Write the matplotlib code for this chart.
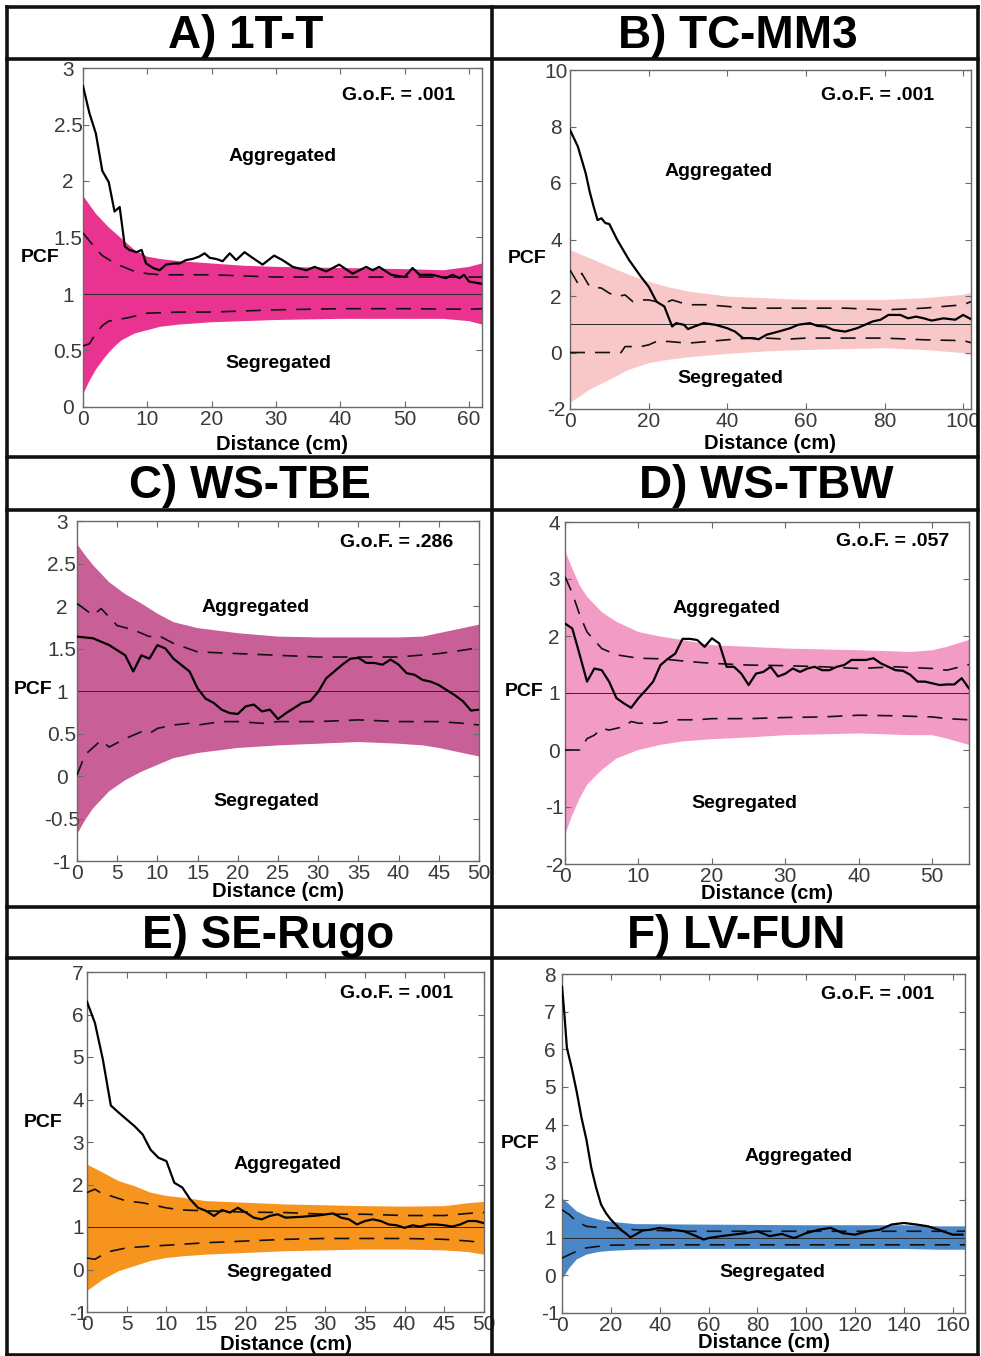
import matplotlib
matplotlib.use('Agg')
import matplotlib.pyplot as plt
from matplotlib.lines import Line2D
from matplotlib.ticker import FormatStrFormatter, MultipleLocator
import numpy as np

plt.rcParams['font.family'] = ['Liberation Sans', 'DejaVu Sans']
plt.rcParams['axes.unicode_minus'] = False

# ---------------- DATA ----------------
titles = ["A) 1T-T", "B) TC-MM3", "C) WS-TBE", "D) WS-TBW", "E) SE-Rugo", "F) LV-FUN"]
gof_labels = ["G.o.F. = .001", "G.o.F. = .001", "G.o.F. = .286", "G.o.F. = .057", "G.o.F. = .001", "G.o.F. = .001"]

# Panel A
A_obs_x = [0, 1, 2, 3, 4, 4.9, 5.7, 6.5, 7.2, 8.3, 9.1, 9.8, 10.9, 11.9, 12.9, 14, 15, 16, 17, 18, 18.9, 19.7,
           20.7, 21.7, 22.8, 23.8, 25.1, 26.1, 27.9, 29.7, 31, 32.6, 34.7, 36, 37.8, 39.8, 41.9, 44, 45, 46,
           47.9, 50, 51.2, 52.3, 54.3, 56.4, 57.4, 58.5, 59.2, 60, 62]
A_obs_y = [2.84, 2.6, 2.42, 2.09, 1.99, 1.73, 1.77, 1.42, 1.39, 1.37, 1.39, 1.27, 1.23, 1.21, 1.26, 1.27, 1.27,
           1.3, 1.31, 1.33, 1.36, 1.32, 1.31, 1.29, 1.36, 1.3, 1.37, 1.33, 1.26, 1.34, 1.3, 1.24, 1.21, 1.24,
           1.2, 1.26, 1.18, 1.24, 1.21, 1.24, 1.17, 1.15, 1.23, 1.17, 1.17, 1.14, 1.17, 1.14, 1.17, 1.11, 1.09]
A_env_x = [0, 1, 2, 3, 4, 5, 6, 8, 10, 12, 15, 20, 25, 30, 40, 50, 56, 60, 62]
A_env_hi = [1.87, 1.79, 1.71, 1.65, 1.59, 1.54, 1.49, 1.39, 1.33, 1.31, 1.29, 1.27, 1.25, 1.24, 1.23, 1.22, 1.21, 1.24, 1.27]
A_env_lo = [0.11, 0.23, 0.33, 0.41, 0.48, 0.54, 0.59, 0.65, 0.68, 0.71, 0.73, 0.75, 0.76, 0.77, 0.78, 0.78, 0.78, 0.76, 0.73]
A_dhi_x = [0, 1, 2, 3, 5, 8, 10, 12, 15, 20, 30, 40, 50, 60, 62]
A_dhi_y = [1.54, 1.47, 1.4, 1.34, 1.27, 1.2, 1.18, 1.17, 1.17, 1.17, 1.15, 1.15, 1.15, 1.15, 1.15]
A_dlo_x = [0, 1, 2, 3, 4, 7, 10, 15, 20, 30, 40, 50, 60, 62]
A_dlo_y = [0.54, 0.56, 0.65, 0.72, 0.76, 0.79, 0.83, 0.84, 0.84, 0.86, 0.87, 0.87, 0.865, 0.87]

# Panel B
B_obs_x = [0, 2, 4, 5, 6, 7, 8, 9, 10, 12, 15, 18, 20, 22, 24, 25, 26, 27, 29, 30, 32, 34, 37, 40, 42, 44, 46,
           48, 50, 53, 56, 58, 61, 63, 65, 67, 70, 73, 75, 77, 79, 81, 84, 86, 88, 90, 92, 95, 98, 100, 102]
B_obs_y = [7.88, 7.29, 6.34, 5.7, 5.17, 4.69, 4.75, 4.58, 4.55, 3.99, 3.28, 2.69, 2.33, 1.8, 1.63, 1.27, 0.92,
           1.04, 0.98, 0.83, 0.94, 1.04, 0.98, 0.86, 0.74, 0.51, 0.51, 0.47, 0.63, 0.74, 0.86, 0.98, 1.04, 0.94,
           0.92, 0.8, 0.74, 0.86, 0.98, 1.1, 1.16, 1.33, 1.33, 1.21, 1.27, 1.21, 1.13, 1.21, 1.16, 1.33, 1.18]
B_env_x = [0, 5, 10, 15, 20, 25, 30, 40, 50, 60, 70, 80, 90, 100, 102]
B_env_hi = [3.63, 3.34, 3.04, 2.75, 2.51, 2.31, 2.16, 1.98, 1.92, 1.86, 1.86, 1.86, 1.92, 2.04, 2.1]
B_env_lo = [-1.79, -1.32, -0.97, -0.61, -0.38, -0.26, -0.17, -0.05, 0.04, 0.09, 0.12, 0.15, 0.09, -0.02, -0.08]
B_dhi_x = [0, 2, 3, 5, 8, 10, 12, 14, 16, 18, 20, 22, 25, 26, 30, 35, 40, 45, 50, 60, 70, 80, 90, 100, 102]
B_dhi_y = [2.92, 2.45, 2.8, 2.33, 2.28, 2.1, 1.98, 2.04, 1.8, 1.86, 1.86, 1.8, 1.8, 1.86, 1.69, 1.69, 1.63,
           1.57, 1.57, 1.57, 1.57, 1.51, 1.57, 1.69, 1.8]
B_dlo_x = [0, 13, 14, 18, 20, 22, 25, 30, 35, 40, 45, 50, 55, 60, 70, 80, 90, 100, 102]
B_dlo_y = [0, 0, 0.21, 0.21, 0.27, 0.39, 0.39, 0.33, 0.39, 0.45, 0.51, 0.51, 0.47, 0.51, 0.51, 0.51, 0.45, 0.42, 0.35]

# Panel C
C_obs_x = [0, 2, 4, 6, 7, 8, 9, 10, 11, 12, 14, 15, 16, 17, 18, 19, 20, 21, 22, 23, 24, 25, 26, 27, 28, 29, 30,
           31, 32, 33, 34, 35, 36, 37, 38, 39, 40, 41, 42, 43, 44, 45, 46, 47, 48, 49, 50]
C_obs_y = [1.64, 1.62, 1.54, 1.42, 1.23, 1.42, 1.38, 1.54, 1.5, 1.38, 1.23, 1.03, 0.91, 0.86, 0.78, 0.74, 0.73,
           0.82, 0.84, 0.76, 0.78, 0.67, 0.74, 0.8, 0.86, 0.88, 0.99, 1.15, 1.23, 1.31, 1.38, 1.39, 1.33, 1.33,
           1.31, 1.37, 1.31, 1.21, 1.19, 1.13, 1.11, 1.07, 1.01, 0.95, 0.88, 0.77, 0.78]
C_env_x = [0, 1, 2, 4, 6, 8, 10, 12, 15, 20, 25, 30, 35, 40, 43, 45, 48, 50]
C_env_hi = [2.73, 2.6, 2.48, 2.28, 2.14, 2.03, 1.91, 1.81, 1.74, 1.68, 1.64, 1.63, 1.63, 1.63, 1.64, 1.68, 1.74, 1.78]
C_env_lo = [-0.69, -0.52, -0.38, -0.18, -0.05, 0.05, 0.13, 0.21, 0.27, 0.33, 0.36, 0.38, 0.40, 0.38, 0.36, 0.33, 0.27, 0.23]
C_dhi_x = [0, 2, 3, 5, 7, 9, 10, 12, 15, 20, 25, 30, 35, 40, 45, 48, 50]
C_dhi_y = [2.03, 1.89, 1.97, 1.77, 1.72, 1.64, 1.66, 1.56, 1.46, 1.44, 1.42, 1.4, 1.4, 1.4, 1.44, 1.48, 1.51]
C_dlo_x = [0, 1, 3, 4, 6, 8, 9, 10, 12, 14, 15, 18, 20, 23, 25, 30, 35, 40, 45, 48, 50]
C_dlo_y = [0.01, 0.25, 0.42, 0.34, 0.44, 0.52, 0.5, 0.56, 0.6, 0.62, 0.6, 0.64, 0.64, 0.62, 0.64, 0.64, 0.66,
           0.64, 0.64, 0.62, 0.6]

# Panel D
D_obs_x = [0, 1, 2, 3, 4, 5, 6, 7, 8, 9, 10, 11, 12, 13, 14, 15, 16, 17, 18, 19, 20, 21, 22, 23, 24, 25, 26, 27,
           28, 29, 30, 31, 32, 33, 34, 35, 36, 37, 38, 39, 40, 41, 42, 43, 44, 45, 46, 47, 48, 49, 50, 51, 52,
           53, 54, 55]
D_obs_y = [2.22, 2.13, 1.67, 1.2, 1.43, 1.4, 1.2, 0.91, 0.82, 0.74, 0.91, 1.05, 1.2, 1.49, 1.6, 1.69, 1.95, 1.95,
           1.93, 1.81, 1.96, 1.87, 1.46, 1.46, 1.34, 1.14, 1.34, 1.37, 1.46, 1.29, 1.34, 1.43, 1.37, 1.43, 1.46,
           1.4, 1.4, 1.46, 1.49, 1.58, 1.58, 1.58, 1.61, 1.52, 1.46, 1.4, 1.39, 1.32, 1.2, 1.2, 1.17, 1.14, 1.15,
           1.15, 1.26, 1.08]
D_env_x = [0, 1, 2, 3, 5, 7, 10, 13, 16, 20, 25, 30, 40, 47, 50, 52, 55]
D_env_hi = [3.5, 3.18, 2.89, 2.69, 2.42, 2.25, 2.07, 1.99, 1.93, 1.84, 1.81, 1.78, 1.75, 1.72, 1.75, 1.81, 1.93]
D_env_lo = [-1.49, -1.14, -0.85, -0.61, -0.35, -0.15, 0.0, 0.09, 0.15, 0.19, 0.22, 0.26, 0.29, 0.26, 0.26, 0.2, 0.09]
D_dhi_x = [0, 1, 2, 3, 5, 7, 10, 13, 17, 20, 25, 30, 35, 40, 45, 50, 52, 55]
D_dhi_y = [3.04, 2.75, 2.37, 2.07, 1.78, 1.67, 1.61, 1.6, 1.55, 1.52, 1.49, 1.48, 1.46, 1.43, 1.46, 1.43, 1.4, 1.5]
D_dlo_x = [0, 2, 3, 4, 5, 6, 8, 9, 10, 13, 15, 18, 20, 25, 30, 35, 40, 45, 50, 52, 55]
D_dlo_y = [0, 0, 0.2, 0.26, 0.38, 0.35, 0.41, 0.5, 0.47, 0.47, 0.53, 0.53, 0.55, 0.55, 0.57, 0.58, 0.61, 0.6,
           0.58, 0.55, 0.53]

# Panel E
E_obs_x = [0, 1, 2, 3, 4, 5, 6, 7, 8, 9, 10, 11, 12, 13, 14, 15, 16, 17, 18, 19, 20, 21, 22, 23, 24, 25, 27, 29,
           31, 32, 33, 34, 35, 36, 37, 38, 39, 40, 41, 42, 43, 44, 45, 46, 47, 48, 49, 50]
E_obs_y = [6.3, 5.8, 4.94, 3.86, 3.69, 3.53, 3.37, 3.18, 2.82, 2.63, 2.55, 2.04, 1.93, 1.65, 1.45, 1.38, 1.26,
           1.4, 1.34, 1.45, 1.34, 1.22, 1.18, 1.26, 1.3, 1.22, 1.24, 1.27, 1.32, 1.22, 1.18, 1.06, 1.14, 1.18,
           1.14, 1.06, 1.04, 0.98, 1.04, 1.01, 1.06, 1.06, 1.04, 1.01, 1.06, 1.14, 1.14, 1.09]
E_env_x = [0, 2, 4, 6, 8, 10, 12, 15, 20, 25, 30, 35, 40, 45, 48, 50]
E_env_hi = [2.47, 2.28, 2.08, 1.96, 1.81, 1.73, 1.69, 1.61, 1.57, 1.53, 1.51, 1.49, 1.48, 1.49, 1.56, 1.59]
E_env_lo = [-0.51, -0.24, -0.04, 0.08, 0.2, 0.27, 0.31, 0.35, 0.39, 0.43, 0.45, 0.47, 0.47, 0.45, 0.41, 0.35]
E_dhi_x = [0, 1, 2, 3, 5, 7, 9, 10, 12, 15, 20, 25, 30, 35, 40, 45, 48, 50]
E_dhi_y = [1.81, 1.89, 1.77, 1.73, 1.61, 1.57, 1.49, 1.45, 1.4, 1.38, 1.35, 1.34, 1.3, 1.3, 1.27, 1.27, 1.32, 1.34]
E_dlo_x = [0, 1, 2, 3, 5, 8, 10, 15, 20, 25, 30, 35, 40, 45, 48, 50]
E_dlo_y = [0.27, 0.24, 0.35, 0.43, 0.51, 0.55, 0.57, 0.63, 0.67, 0.71, 0.73, 0.73, 0.73, 0.71, 0.67, 0.63]

# Panel F
F_obs_x = [0, 1, 2, 4, 6, 8, 10, 12, 14, 16, 18, 20, 22, 24, 26, 28, 30, 33, 36, 40, 45, 50, 55, 58, 60, 65, 70,
           75, 80, 85, 90, 95, 100, 105, 110, 115, 120, 125, 130, 135, 140, 145, 150, 155, 160, 164]
F_obs_y = [7.67, 6.92, 6.04, 5.5, 4.88, 4.18, 3.6, 2.85, 2.32, 1.88, 1.65, 1.48, 1.35, 1.21, 1.12, 1.01, 1.08,
           1.19, 1.21, 1.26, 1.21, 1.17, 1.04, 0.95, 0.99, 1.04, 1.08, 1.12, 1.17, 1.04, 1.1, 0.99, 1.12, 1.21,
           1.26, 1.12, 1.08, 1.17, 1.21, 1.35, 1.39, 1.35, 1.3, 1.19, 1.08, 1.08]
F_env_x = [0, 3, 6, 10, 15, 20, 30, 50, 100, 140, 155, 160, 165]
F_env_hi = [2.05, 1.88, 1.7, 1.57, 1.48, 1.42, 1.36, 1.35, 1.33, 1.33, 1.3, 1.3, 1.3]
F_env_lo = [-0.12, 0.19, 0.42, 0.55, 0.62, 0.65, 0.68, 0.7, 0.7, 0.7, 0.68, 0.68, 0.68]
F_dhi_x = [0, 3, 6, 10, 15, 20, 30, 50, 100, 140, 165]
F_dhi_y = [1.74, 1.61, 1.43, 1.3, 1.27, 1.26, 1.21, 1.17, 1.17, 1.17, 1.17]
F_dlo_x = [0, 3, 6, 10, 15, 20, 30, 50, 100, 165]
F_dlo_y = [0.46, 0.55, 0.64, 0.73, 0.77, 0.8, 0.81, 0.81, 0.81, 0.81]

# axis ranges / ticks
xlims = [(0, 62), (0, 102), (0, 50), (0, 55), (0, 50), (0, 165)]
ylims = [(0, 3), (-2, 10), (-1, 3), (-2, 4), (-1, 7), (-1, 8)]
xsteps = [10, 20, 5, 10, 5, 20]
ysteps = [0.5, 2, 0.5, 1, 1, 1]

# ---------------- STYLE / LAYOUT ----------------
fill_colors = ['#EA3391', '#F8C7C8', '#C85F97', '#F29BC5', '#F7941E', '#4A87C8']
W, H = 981, 1356
# axes boxes in pixels: left, top, width, height
ax_px = [(83, 68, 399, 339), (570, 70, 401, 339), (77, 521, 402, 340),
         (565, 522, 404, 342), (87, 972, 397, 340), (562, 974, 403, 339)]
title_px = [(246, 48), (738, 48), (250, 498), (766, 498), (268, 948), (736, 948)]
gof_pos = [(0.79, 0.92), (0.768, 0.926), (0.796, 0.938), (0.812, 0.942), (0.781, 0.938), (0.782, 0.941)]
agg_pos = [(0.50, 0.74), (0.37, 0.70), (0.443, 0.747), (0.401, 0.746), (0.504, 0.435), (0.586, 0.463)]
seg_pos = [(0.49, 0.127), (0.40, 0.091), (0.472, 0.176), (0.443, 0.178), (0.484, 0.115), (0.521, 0.12)]
pcf_pos = [(-0.108, 0.44), (-0.107, 0.445), (-0.109, 0.503), (-0.101, 0.503), (-0.111, 0.556), (-0.104, 0.50)]
dist_y = [-0.112, -0.103, -0.091, -0.085, -0.097, -0.088]
ytick_pad = [10.8, 10.0, 11.0, 7.8, 6.5, 8.6]   # points from spine to label centre

fig = plt.figure(figsize=(W / 100, H / 100), dpi=100)

data = [
    (A_obs_x, A_obs_y, A_env_x, A_env_hi, A_env_lo, A_dhi_x, A_dhi_y, A_dlo_x, A_dlo_y),
    (B_obs_x, B_obs_y, B_env_x, B_env_hi, B_env_lo, B_dhi_x, B_dhi_y, B_dlo_x, B_dlo_y),
    (C_obs_x, C_obs_y, C_env_x, C_env_hi, C_env_lo, C_dhi_x, C_dhi_y, C_dlo_x, C_dlo_y),
    (D_obs_x, D_obs_y, D_env_x, D_env_hi, D_env_lo, D_dhi_x, D_dhi_y, D_dlo_x, D_dlo_y),
    (E_obs_x, E_obs_y, E_env_x, E_env_hi, E_env_lo, E_dhi_x, E_dhi_y, E_dlo_x, E_dlo_y),
    (F_obs_x, F_obs_y, F_env_x, F_env_hi, F_env_lo, F_dhi_x, F_dhi_y, F_dlo_x, F_dlo_y),
]

tick_col = '#3a3a3a'
spine_col = '#6a6a6a'

for i, d in enumerate(data):
    ox, oy, ex, ehi, elo, dhx, dhy, dlx, dly = d
    l, t, w, h = ax_px[i]
    ax = fig.add_axes([l / W, 1 - (t + h) / H, w / W, h / H])
    ex = np.asarray(ex, float)
    ax.fill(np.r_[ex, ex[::-1]], np.r_[ehi, np.asarray(elo)[::-1]], color=fill_colors[i], lw=0, zorder=1)
    ax.axhline(1, color='#2a2a2a', lw=0.7, zorder=2)
    ax.plot(dhx, dhy, color='#111111', lw=1.2, dashes=(9, 6), zorder=3)
    ax.plot(dlx, dly, color='#111111', lw=1.2, dashes=(9, 6), zorder=3)
    ax.plot(ox, oy, color='#000000', lw=1.6, zorder=4)
    ax.set_xlim(*xlims[i])
    ax.set_ylim(*ylims[i])
    ax.xaxis.set_major_locator(MultipleLocator(xsteps[i]))
    ax.yaxis.set_major_locator(MultipleLocator(ysteps[i]))
    ax.xaxis.set_major_formatter(FormatStrFormatter('%g'))
    ax.yaxis.set_major_formatter(FormatStrFormatter('%g'))
    ax.tick_params(direction='in', top=True, right=True, length=4, width=0.8, color=spine_col,
                   labelsize=15, labelcolor=tick_col)
    ax.tick_params(axis='y', pad=ytick_pad[i])
    ax.tick_params(axis='x', pad=2)
    for tk in ax.yaxis.get_major_ticks():
        tk.label1.set_horizontalalignment('center')
    for s in ax.spines.values():
        s.set_color(spine_col)
        s.set_linewidth(1.0)
    ax.text(*gof_pos[i], gof_labels[i], transform=ax.transAxes, ha='center', va='center',
            fontsize=14, fontweight='bold')
    ax.text(*agg_pos[i], 'Aggregated', transform=ax.transAxes, ha='center', va='center',
            fontsize=14, fontweight='bold')
    ax.text(*seg_pos[i], 'Segregated', transform=ax.transAxes, ha='center', va='center',
            fontsize=14, fontweight='bold')
    ax.set_ylabel('PCF', rotation=0, fontsize=14, fontweight='bold', va='center', ha='center')
    ax.yaxis.set_label_coords(*pcf_pos[i])
    ax.set_xlabel('Distance (cm)', fontsize=14.5, fontweight='bold', va='center')
    ax.xaxis.set_label_coords(0.5, dist_y[i])
    tx, ty = title_px[i]
    fig.text(tx / W, 1 - ty / H, titles[i], ha='center', va='baseline', fontsize=33, fontweight='bold')

# panel grid borders
hlines = [6.5, 59, 457, 509.5, 907, 958, 1355]
vlines = [7, 491.5, 978]
for y in hlines:
    fig.add_artist(Line2D([7 / W, 978 / W], [1 - y / H, 1 - y / H], transform=fig.transFigure,
                          color='#111111', lw=2.6, solid_capstyle='projecting'))
for x in vlines:
    fig.add_artist(Line2D([x / W, x / W], [1 - 6.5 / H, 1 - 1355 / H], transform=fig.transFigure,
                          color='#111111', lw=2.6, solid_capstyle='projecting'))

fig.savefig('out.png', dpi=100)
